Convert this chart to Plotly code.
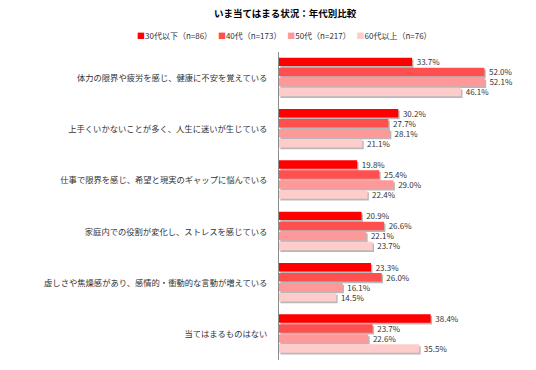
import plotly.graph_objects as go

categories = [
    "体力の限界や疲労を感じ、健康に不安を覚えている",
    "上手くいかないことが多く、人生に迷いが生じている",
    "仕事で限界を感じ、希望と現実のギャップに悩んでいる",
    "家庭内での役割が変化し、ストレスを感じている",
    "虚しさや焦燥感があり、感情的・衝動的な言動が増えている",
    "当てはまるものはない",
]
series_names = ["30代以下（n=86）", "40代（n=173）", "50代（n=217）", "60代以上（n=76）"]
v30 = [33.7, 30.2, 19.8, 20.9, 23.3, 38.4]
v40 = [52.0, 27.7, 25.4, 26.6, 26.0, 23.7]
v50 = [52.1, 28.1, 29.0, 22.1, 16.1, 22.6]
v60 = [46.1, 21.1, 22.4, 23.7, 14.5, 35.5]
values = [v30, v40, v50, v60]
colors = ["#FF0000", "#FF4F4F", "#FF9999", "#FFCCCC"]

FONT = "Noto Sans CJK JP"
TXT = "#333333"

fig = go.Figure()

bar_w = 0.165
pitch = 0.195
start = -0.39

# shadows
for i, vals in enumerate(values):
    fig.add_trace(go.Bar(
        y=categories, x=vals, orientation="h",
        base=0.35, width=bar_w, offset=start + i * pitch + 0.035,
        marker=dict(color="rgba(0,0,0,0.28)", line=dict(width=0)),
        showlegend=False, hoverinfo="skip",
    ))

for i, vals in enumerate(values):
    fig.add_trace(go.Bar(
        y=categories, x=vals, orientation="h", name=series_names[i],
        width=bar_w, offset=start + i * pitch,
        marker=dict(color=colors[i], line=dict(width=0)),
        texttemplate="\u2009%{x:.1f}%", textposition="outside",
        constraintext="none", textangle=0,
        textfont=dict(family=FONT, size=8, color=TXT),
        cliponaxis=False, showlegend=False,
    ))

legend_text = "　 ".join(
    f"<span style='color:{c}'>■</span>{n}" for c, n in zip(colors, series_names)
)

fig.update_layout(
    width=536, height=370,
    barmode="overlay",
    plot_bgcolor="white", paper_bgcolor="white",
    margin=dict(l=279, r=20, t=52, b=10),
    font=dict(family=FONT, size=8.3, color=TXT),
    title=dict(text="<b>いま当てはまる状況：年代別比較</b>", xref="container", x=0.532,
               xanchor="center", y=0.962, yanchor="middle",
               font=dict(family=FONT, size=9.5, color="#000000")),
    xaxis=dict(range=[0, 60], showgrid=False, zeroline=False, showticklabels=False,
               showline=False, fixedrange=True),
    yaxis=dict(autorange="reversed", showgrid=False, zeroline=False,
               showline=True, linecolor="#8c8c8c", linewidth=1,
               ticks="", ticklabelstandoff=9, fixedrange=True,
               tickfont=dict(family=FONT, size=8.3, color=TXT)),
    annotations=[dict(text=legend_text, xref="paper", yref="paper", x=0.025, y=1.055,
                      xanchor="center", yanchor="middle", showarrow=False,
                      font=dict(family=FONT, size=8, color=TXT))],
)

fig.write_html("out.html", config={"displayModeBar": False},
               post_script="document.body.style.margin='0';document.body.style.padding='0';")
